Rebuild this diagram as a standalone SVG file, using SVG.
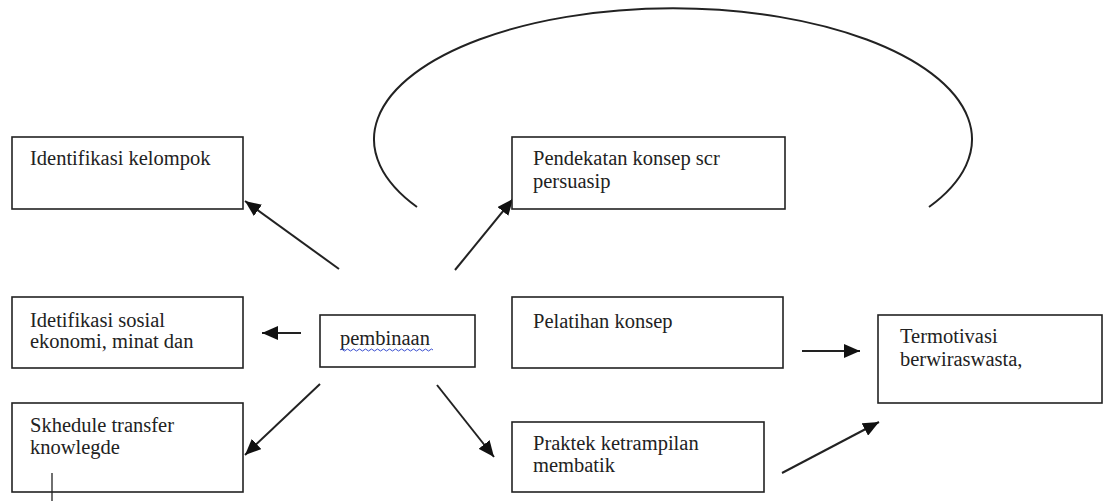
<svg xmlns="http://www.w3.org/2000/svg" width="1105" height="501" viewBox="0 0 1105 501" font-family="'Liberation Serif', 'Times New Roman', Tinos, 'DejaVu Serif', serif">
<style>
.box{fill:#fff;stroke:#222;stroke-width:1.6}
text{font-family:'Liberation Serif','Times New Roman',Tinos,'DejaVu Serif',serif;font-size:20.5px;fill:#222}
.c{stroke:#222;stroke-width:2;fill:none}
</style>
<defs>
<marker id="ah" markerUnits="userSpaceOnUse" markerWidth="18" markerHeight="14" refX="16" refY="7" orient="auto">
<path d="M0,0 L16,7 L0,14 Z" fill="#111"/>
</marker>
</defs>
<rect width="1105" height="501" fill="#fff"/>
<g id="connectors">
<path class="c" d="M417,207 A299,131 0 1 1 929,207" stroke-width="1.3"/>
<line class="c" x1="339" y1="269" x2="245" y2="201" marker-end="url(#ah)"/>
<line class="c" x1="455" y1="270" x2="513" y2="199" marker-end="url(#ah)"/>
<line class="c" x1="301" y1="333" x2="262" y2="333" marker-end="url(#ah)"/>
<line class="c" x1="320" y1="384" x2="245" y2="455" marker-end="url(#ah)"/>
<line class="c" x1="437" y1="385" x2="494" y2="457" marker-end="url(#ah)"/>
<line class="c" x1="802" y1="351" x2="860" y2="351" marker-end="url(#ah)"/>
<line class="c" x1="782" y1="473" x2="879" y2="422" marker-end="url(#ah)"/>
</g>
<g id="identifikasi-kelompok">
<rect class="box" x="12" y="137" width="231" height="72"/>
<text x="30" y="165">Identifikasi kelompok</text>
</g>
<g id="idetifikasi-sosial">
<rect class="box" x="12" y="297" width="231" height="71"/>
<text x="30" y="327">Idetifikasi sosial</text>
<text x="30" y="348">ekonomi, minat dan</text>
</g>
<g id="skhedule">
<rect class="box" x="12" y="403" width="231" height="89"/>
<text x="30" y="432">Skhedule transfer</text>
<text x="30" y="454">knowlegde</text>
<line x1="52" y1="473" x2="52" y2="501" stroke="#222" stroke-width="1.3"/>
</g>
<g id="pembinaan">
<rect class="box" x="320" y="315" width="155" height="52"/>
<text x="340" y="345">pembinaan</text>
<path d="M340,350 q1.5,-2 3,0 t3,0 t3,0 t3,0 t3,0 t3,0 t3,0 t3,0 t3,0 t3,0 t3,0 t3,0 t3,0 t3,0 t3,0 t3,0 t3,0 t3,0 t3,0 t3,0 t3,0 t3,0 t3,0 t3,0 t3,0 t3,0 t3,0 t3,0 t3,0 t3,0 t3,0" fill="none" stroke="#3a4fd0" stroke-width="1"/>
</g>
<g id="pendekatan">
<rect class="box" x="512" y="137" width="273" height="72"/>
<text x="533" y="165">Pendekatan konsep scr</text>
<text x="533" y="188">persuasip</text>
</g>
<g id="pelatihan">
<rect class="box" x="512" y="297" width="271" height="71"/>
<text x="533" y="328">Pelatihan konsep</text>
</g>
<g id="praktek">
<rect class="box" x="512" y="422" width="252" height="70"/>
<text x="533" y="450">Praktek ketrampilan</text>
<text x="533" y="472">membatik</text>
</g>
<g id="termotivasi">
<rect class="box" x="878" y="315" width="224" height="88"/>
<text x="900" y="343">Termotivasi</text>
<text x="900" y="366">berwiraswasta,</text>
</g>
</svg>
